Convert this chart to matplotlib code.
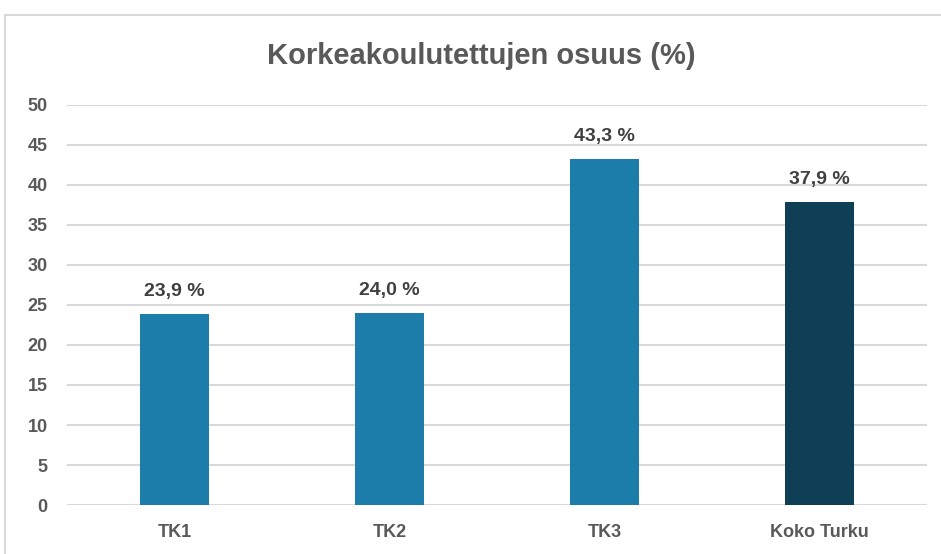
import matplotlib.pyplot as plt
from matplotlib.patches import Rectangle

categories = ['TK1', 'TK2', 'TK3', 'Koko Turku']
values = [23.9, 24.0, 43.3, 37.9]
labels = ['23,9 %', '24,0 %', '43,3 %', '37,9 %']
colors = ['#1c7dab', '#1c7dab', '#1c7dab', '#0f3f55']

font = ['Liberation Sans', 'DejaVu Sans']
grey = '#595959'

fig = plt.figure(figsize=(9.41, 5.54), dpi=100)
ax = fig.add_axes([67 / 941, 1 - 505 / 554, 860 / 941, 400 / 554])

# chart area border (top and left edges visible)
fig.patches.append(Rectangle((5 / 941, -0.1), 1.2, 1 - 15 / 554 + 0.1,
                             transform=fig.transFigure, fill=False,
                             edgecolor='#d9d9d9', linewidth=1.5))

x = range(len(categories))
ax.bar(x, values, width=0.32, color=colors, zorder=3)

for i, v in enumerate(values):
    ax.annotate(labels[i], (i, v), xytext=(0, 10), textcoords='offset points',
                ha='center', va='bottom', fontsize=14, fontweight='bold',
                color='#404040', family=font)

ax.set_xlim(-0.5, len(categories) - 0.5)
ax.set_ylim(0, 50)
ax.set_yticks(range(0, 51, 5))
ax.set_xticks(list(x))
ax.set_xticklabels(categories)
ax.grid(axis='y', color='#d9d9d9', linewidth=1.5, zorder=0)
for s in ax.spines.values():
    s.set_visible(False)
ax.tick_params(length=0, colors=grey, labelsize=13)
ax.tick_params(axis='y', pad=14)
ax.tick_params(axis='x', pad=14)
for t in ax.get_xticklabels() + ax.get_yticklabels():
    t.set_fontweight('bold')
    t.set_family(font)

fig.text(481 / 941, 1 - 56 / 554, 'Korkeakoulutettujen osuus (%)', ha='center', va='center',
         fontsize=21, fontweight='bold', color=grey, family=font)

fig.savefig('out.png', dpi=100)
